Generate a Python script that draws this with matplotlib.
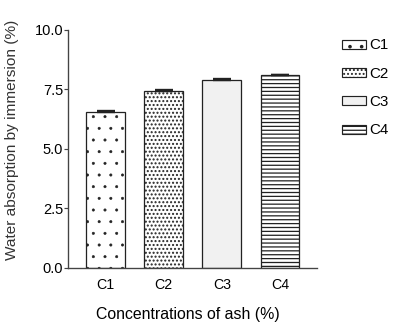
import matplotlib
matplotlib.use("Agg")
import matplotlib.pyplot as plt
from matplotlib.patches import Patch

# data
categories = ["C1", "C2", "C3", "C4"]
means = [6.55, 7.42, 7.88, 8.10]
errors = [0.05, 0.05, 0.04, 0.0]
yticks = [0.0, 2.5, 5.0, 7.5, 10.0]
ytick_labels = ["0.0", "2.5", "5.0", "7.5", "10.0"]

INK = "#222222"
DPI = 70
SANS = ["Liberation Sans", "DejaVu Sans"]

plt.rcParams.update({
    "font.family": ["Liberation Sans Narrow", "Liberation Sans", "DejaVu Sans"],
    "hatch.linewidth": 1.3,
    "axes.linewidth": 1.4,
    "axes.edgecolor": "#444444",
})

hatches = [".", "...", "", "---"]
faces = ["white", "white", "#f1f1f1", "white"]
hatch_lw = [0.6, 1.4, 1.0, 1.3]

fig = plt.figure(figsize=(402 / DPI, 332 / DPI), dpi=DPI)
ax = fig.add_axes([0.169, 0.193, 0.62, 0.717])

x = list(range(len(categories)))
bars = ax.bar(x, means, width=0.67, color=faces, edgecolor=INK,
              linewidth=1.3, hatch=hatches, zorder=2)
for b, lw in zip(bars, hatch_lw):
    if hasattr(b, "set_hatch_linewidth"):
        b.set_hatch_linewidth(lw)
ax.errorbar(x, means, yerr=[[0] * len(errors), errors], fmt="none",
            ecolor=INK, elinewidth=1.3, capsize=9.5, capthick=2.4, zorder=3)

ax.set_xlim(-0.65, 3.64)
ax.set_ylim(0, 10)
ax.set_yticks(yticks)
ax.set_yticklabels(ytick_labels, fontsize=15)
ax.set_xticks(x)
ax.set_xticklabels(categories, fontsize=14.5, family=SANS)
ax.tick_params(axis="y", length=4, width=1.2, color="#444444", pad=1)
ax.tick_params(axis="x", length=0, pad=10)
ax.spines["top"].set_visible(False)
ax.spines["right"].set_visible(False)

ax.set_xlabel("Concentrations of ash (%)", fontsize=16.3, family=SANS)
ax.xaxis.set_label_coords(0.48, -0.165)
ax.set_ylabel("Water absorption by immersion (%)", fontsize=15.8, family=SANS,
              color="#333333")
ax.yaxis.set_label_coords(-0.195, 0.54)

handles = []
for f, h, lw in zip(faces, hatches, hatch_lw):
    p = Patch(facecolor=f, edgecolor=INK, hatch=h, linewidth=1.2)
    if hasattr(p, "set_hatch_linewidth"):
        p.set_hatch_linewidth(lw)
    handles.append(p)
fig.legend(handles, categories, loc="upper left", bbox_to_anchor=(0.818, 0.925),
           frameon=False, handlelength=1.55, handleheight=0.55,
           labelspacing=0.95, handletextpad=0.25,
           prop={"family": SANS, "size": 15.5})

fig.savefig("out.png", dpi=DPI)
